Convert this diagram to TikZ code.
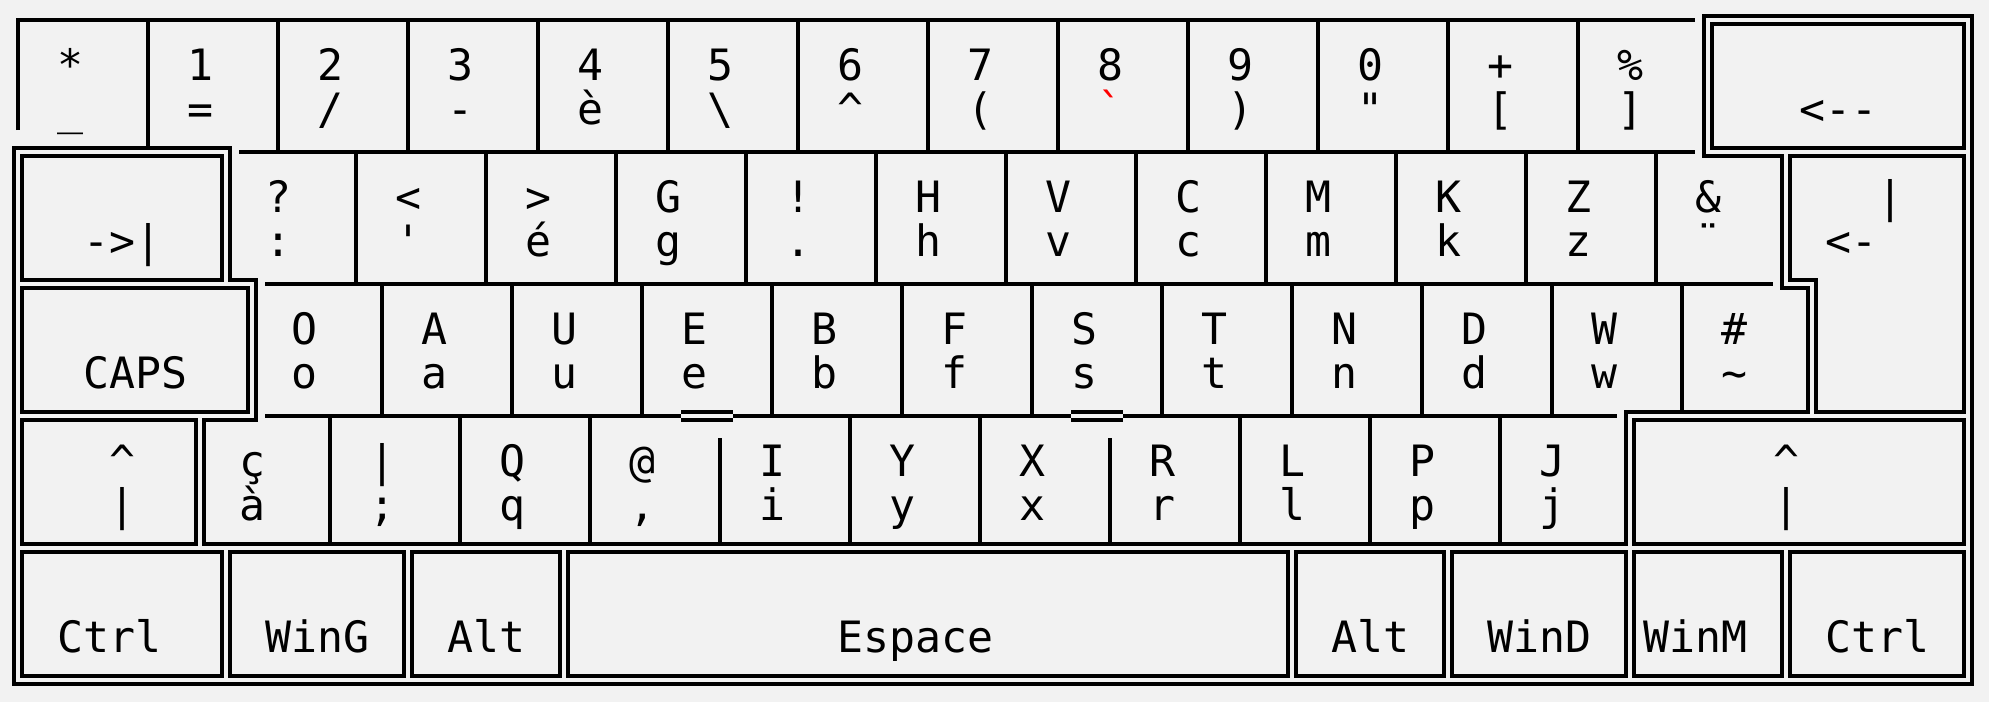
\documentclass[tikz,border=0pt]{standalone}
\usepackage{fontspec}
\setmonofont{DejaVu Sans Mono}
\definecolor{keybg}{RGB}{242,242,242}
\usetikzlibrary{calc}

\newcommand{\dkey}[4]{\draw[dbl] ({gx(#1)+4},{gy(#2)+4}) rectangle ({gx(#3)-4},{gy(#4)-4});}

\begin{document}
\begin{tikzpicture}[x=0.5pt,y=-0.5pt,
		declare function={gx(\c)=18+26*\c; gy(\r)=20+44*\r;},
		sgl/.style={line width=1.8pt},
		dbl/.style={line width=1.8pt, line join=miter},
		lbl/.style={font=\ttfamily\fontsize{21.6}{21.6}\selectfont, inner sep=0pt, anchor=base west}]
		
		%Shape: background
		\fill[keybg] (0,0) rectangle (1989,702);
		\useasboundingbox (0,0) rectangle (1989,702);
		
		%Shape: outer stroke of the double border
		\draw[dbl] ({gx(65)-4},{gy(0)-4}) -- ({gx(75)+4},{gy(0)-4}) -- ({gx(75)+4},{gy(15)+4}) -- ({gx(0)-4},{gy(15)+4}) -- ({gx(0)-4},{gy(3)-4}) -- ({gx(8)+4},{gy(3)-4}) -- ({gx(8)+4},{gy(6)-4}) -- ({gx(9)+4},{gy(6)-4}) -- ({gx(9)+4},{gy(9)+4}) -- ({gx(7)+4},{gy(9)+4}) -- ({gx(7)+4},{gy(12)-4}) -- ({gx(62)-4},{gy(12)-4}) -- ({gx(62)-4},{gy(9)-4}) -- ({gx(69)-4},{gy(9)-4}) -- ({gx(69)-4},{gy(6)+4}) -- ({gx(68)-4},{gy(6)+4}) -- ({gx(68)-4},{gy(3)+4}) -- ({gx(65)-4},{gy(3)+4}) -- cycle;
		
		%Shape: special keys (inner strokes)
		\dkey{65}{0}{75}{3}
		\draw[dbl] ({gx(68)+4},{gy(3)+4}) -- ({gx(75)-4},{gy(3)+4}) -- ({gx(75)-4},{gy(9)-4}) -- ({gx(69)+4},{gy(9)-4}) -- ({gx(69)+4},{gy(6)-4}) -- ({gx(68)+4},{gy(6)-4}) -- cycle;
		\dkey{0}{3}{8}{6}
		\dkey{0}{6}{9}{9}
		\dkey{0}{9}{7}{12}
		\dkey{62}{9}{75}{12}
		\foreach \a/\b in {0/8, 8/15, 15/21, 21/49, 49/55, 55/62, 62/68, 68/75}{
			\dkey{\a}{12}{\b}{15}
		}
		
		%Straight Lines: number row
		\draw[sgl] ({gx(0)},{gy(2)+22}) -- ({gx(0)},{gy(0)}) -- ({gx(64)+13},{gy(0)});
		\draw[sgl] ({gx(5)},{gy(0)}) -- ({gx(5)},{gy(3)-4});
		\foreach \c in {10,15,...,60}
		\draw[sgl] ({gx(\c)},{gy(0)}) -- ({gx(\c)},{gy(3)});
		\draw[sgl] ({gx(8)+13},{gy(3)}) -- ({gx(64)+13},{gy(3)});
		
		%Straight Lines: upper letter row
		\foreach \c in {13,18,...,63}
		\draw[sgl] ({gx(\c)},{gy(3)}) -- ({gx(\c)},{gy(6)});
		\draw[sgl] ({gx(9)+13},{gy(6)}) -- ({gx(67)+13},{gy(6)});
		
		%Straight Lines: home row
		\foreach \c in {14,19,...,59}
		\draw[sgl] ({gx(\c)},{gy(6)}) -- ({gx(\c)},{gy(9)});
		\draw[sgl] ({gx(64)},{gy(6)}) -- ({gx(64)},{gy(9)-4});
		\draw[sgl] ({gx(9)+13},{gy(9)}) -- ({gx(25)+13},{gy(9)});
		\draw[sgl] ({gx(27)+13},{gy(9)}) -- ({gx(40)+13},{gy(9)});
		\draw[sgl] ({gx(42)+13},{gy(9)}) -- ({gx(61)+13},{gy(9)});
		% home bumps
		\foreach \c in {25,40}{
			\draw[sgl] ({gx(\c)+13},{gy(9)-4}) -- ({gx(\c+2)+13},{gy(9)-4});
			\draw[sgl] ({gx(\c)+13},{gy(9)+4}) -- ({gx(\c+2)+13},{gy(9)+4});
		}
		
		%Straight Lines: lower letter row
		\foreach \c in {12,17,22,32,37,47,52,57}
		\draw[sgl] ({gx(\c)},{gy(9)}) -- ({gx(\c)},{gy(12)-4});
		\foreach \c in {27,42}
		\draw[sgl] ({gx(\c)},{gy(9)+22}) -- ({gx(\c)},{gy(12)-4});
		
		% Text Node
		\foreach \up/\lo [count=\i from 0] in {*/\_, 1/=, 2/{/}, 3/-, 4/è, 5/\textbackslash, 6/\textasciicircum, 7/(, 8/{\color{red}\textasciigrave}, 9/), 0/\textquotedbl, +/[, \%/]}{
			\node[lbl] (nu\i) at ({gx(2+5*\i)-13},{gy(1)+16}) {\up};
			\node[lbl] (nl\i) at ({gx(2+5*\i)-13},{gy(2)+16}) {\lo};
		}
		% Text Node
		\foreach \up/\lo [count=\i from 0] in {?/:, </', >/é, G/g, !/., H/h, V/v, C/c, M/m, K/k, Z/z, \&/¨}{
			\node[lbl] (tu\i) at ({gx(10+5*\i)-13},{gy(4)+16}) {\up};
			\node[lbl] (tl\i) at ({gx(10+5*\i)-13},{gy(5)+16}) {\lo};
		}
		% Text Node
		\foreach \up/\lo [count=\i from 0] in {O/o, A/a, U/u, E/e, B/b, F/f, S/s, T/t, N/n, D/d, W/w, \#/\textasciitilde}{
			\node[lbl] (hu\i) at ({gx(11+5*\i)-13},{gy(7)+16}) {\up};
			\node[lbl] (hl\i) at ({gx(11+5*\i)-13},{gy(8)+16}) {\lo};
		}
		% Text Node
		\foreach \up/\lo [count=\i from 0] in {ç/à, \textbar/;, Q/q, @/{,}, I/i, Y/y, X/x, R/r, L/l, P/p, J/j}{
			\node[lbl] (bu\i) at ({gx(9+5*\i)-13},{gy(10)+16}) {\up};
			\node[lbl] (bl\i) at ({gx(9+5*\i)-13},{gy(11)+16}) {\lo};
		}
		
		% Text Node
		\node[lbl] (bksp) at ({gx(69)-13},{gy(2)+16}) {<--};
		\node[lbl] (tab) at ({gx(3)-13},{gy(5)+16}) {->\textbar};
		\node[lbl] (entbar) at ({gx(72)-13},{gy(4)+16}) {\textbar};
		\node[lbl] (ent) at ({gx(70)-13},{gy(5)+16}) {<-};
		\node[lbl] (caps) at ({gx(3)-13},{gy(8)+16}) {CAPS};
		\node[lbl] (lshu) at ({gx(4)-13},{gy(10)+16}) {\textasciicircum};
		\node[lbl] (lshl) at ({gx(4)-13},{gy(11)+16}) {\textbar};
		\node[lbl] (rshu) at ({gx(68)-13},{gy(10)+16}) {\textasciicircum};
		\node[lbl] (rshl) at ({gx(68)-13},{gy(11)+16}) {\textbar};
		\foreach \c/\t in {2/Ctrl, 10/WinG, 17/Alt, 32/Espace, 51/Alt, 57/WinD, 63/WinM, 70/Ctrl}
		\node[lbl] (mod\c) at ({gx(\c)-13},{gy(14)+16}) {\t};
		
\end{tikzpicture}
\end{document}
